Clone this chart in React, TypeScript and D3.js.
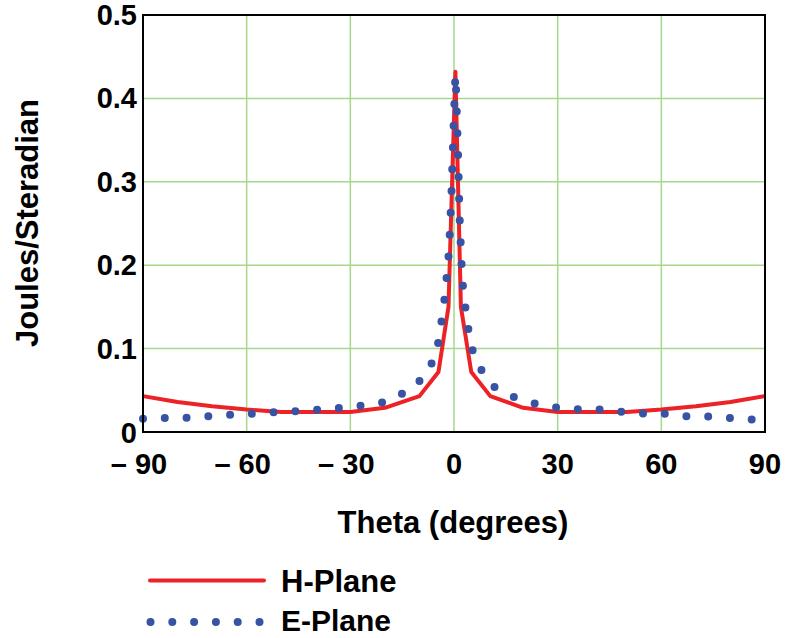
import React, { useRef, useEffect } from "react";
import * as d3 from "d3";

// H-Plane (solid red line): [theta deg, joules/sr]
const hTheta = [-90, -80, -70, -60, -50, -40, -30, -20, -10, -4.5, -1.6, 0.4, 2.0, 5, 10.5, 20, 30, 40, 50, 60, 70, 80, 90];
const hValue = [0.043, 0.036, 0.031, 0.027, 0.024, 0.024, 0.024, 0.029, 0.043, 0.072, 0.15, 0.432, 0.15, 0.072, 0.043, 0.029, 0.024, 0.024, 0.024, 0.027, 0.031, 0.036, 0.043];

// E-Plane (dotted blue line)
const eTheta = [-90, -83, -77, -70.5, -64, -58, -51.5, -45, -39, -32.5, -26, -20, -13.5, -8, -5, -4, -3, -2.4, -1.7, -1.2, -0.7, -0.1, 0.4, 0.6, 1.2, 1.6, 2.2, 2.8, 3.9, 4.5, 6.9, 10.8, 17.2, 23.5, 30, 36.3, 42.7, 49, 55.3, 61.7, 68, 74.4, 80.7, 87, 90];
const eValue = [0.016, 0.017, 0.017, 0.019, 0.021, 0.022, 0.024, 0.025, 0.027, 0.029, 0.032, 0.036, 0.049, 0.068, 0.096, 0.123, 0.149, 0.175, 0.202, 0.24, 0.29, 0.37, 0.428, 0.41, 0.33, 0.26, 0.2, 0.161, 0.135, 0.108, 0.081, 0.056, 0.042, 0.034, 0.029, 0.027, 0.027, 0.024, 0.022, 0.022, 0.0185, 0.0185, 0.0165, 0.0148, 0.014];

const xTicks = [-90, -60, -30, 0, 30, 60, 90];
const yTicks = [0, 0.1, 0.2, 0.3, 0.4, 0.5];

const RED = "#ec2227";
const BLUE = "#3853a4";
const GRID = "#a6d88c";
const FONT = "'Liberation Sans', Arial, sans-serif";

const App = () => {
  const svgRef = useRef<SVGSVGElement>(null);

  useEffect(() => {
    const svg = d3.select(svgRef.current);
    svg.selectAll("*").remove();

    const left = 143, right = 765, top = 15, bottom = 432;
    const x = d3.scaleLinear().domain([-90, 90]).range([left, right]);
    const y = d3.scaleLinear().domain([0, 0.5]).range([bottom, top]);

    // grid
    const g = svg.append("g");
    g.selectAll(".vg")
      .data(xTicks.slice(1, -1))
      .enter()
      .append("line")
      .attr("x1", (d) => x(d)).attr("x2", (d) => x(d))
      .attr("y1", top).attr("y2", bottom)
      .attr("stroke", GRID).attr("stroke-width", 1.5);
    g.selectAll(".hg")
      .data(yTicks.slice(1, -1))
      .enter()
      .append("line")
      .attr("x1", left).attr("x2", right)
      .attr("y1", (d) => y(d)).attr("y2", (d) => y(d))
      .attr("stroke", GRID).attr("stroke-width", 1.5);

    const line = d3.line<[number, number]>().x((d) => x(d[0])).y((d) => y(d[1]));
    const hData = hTheta.map((t, i) => [t, hValue[i]] as [number, number]);
    const eData = eTheta.map((t, i) => [t, eValue[i]] as [number, number]);

    svg.append("path")
      .attr("d", line(hData))
      .attr("fill", "none")
      .attr("stroke", RED)
      .attr("stroke-width", 4)
      .attr("stroke-linejoin", "round");

    svg.append("path")
      .attr("d", line(eData))
      .attr("fill", "none")
      .attr("stroke", BLUE)
      .attr("stroke-width", 8)
      .attr("stroke-linecap", "round")
      .attr("stroke-dasharray", "0 21.8");

    // frame
    svg.append("rect")
      .attr("x", left).attr("y", top)
      .attr("width", right - left).attr("height", bottom - top)
      .attr("fill", "none").attr("stroke", "#000").attr("stroke-width", 2);

    // tick labels
    svg.selectAll(".xt")
      .data(xTicks)
      .enter()
      .append("text")
      .attr("x", (d) => x(d) + (d < 0 ? -4 : 0))
      .attr("y", 474)
      .attr("text-anchor", "middle")
      .style("font", `bold 29px ${FONT}`)
      .text((d) => (d < 0 ? `\u2013 ${-d}` : `${d}`));

    svg.selectAll(".yt")
      .data(yTicks)
      .enter()
      .append("text")
      .attr("x", 137)
      .attr("y", (d) => (d === 0 ? y(d) + 11 : y(d) + 10))
      .attr("text-anchor", "end")
      .style("font", `bold 29px ${FONT}`)
      .text((d) => (d === 0 ? "0" : d.toFixed(1)));

    // axis titles
    svg.append("text")
      .attr("x", 453).attr("y", 533)
      .attr("text-anchor", "middle")
      .style("font", `bold 31px ${FONT}`)
      .text("Theta (degrees)");

    svg.append("text")
      .attr("transform", "translate(38,223) rotate(-90)")
      .attr("text-anchor", "middle")
      .style("font", `bold 31px ${FONT}`)
      .text("Joules/Steradian");

    // legend
    svg.append("line")
      .attr("x1", 150).attr("x2", 264).attr("y1", 580.5).attr("y2", 580.5)
      .attr("stroke", RED).attr("stroke-width", 4).attr("stroke-linecap", "round");
    svg.append("line")
      .attr("x1", 150.5).attr("x2", 262).attr("y1", 622).attr("y2", 622)
      .attr("stroke", BLUE).attr("stroke-width", 8)
      .attr("stroke-linecap", "round").attr("stroke-dasharray", "0 21.8");
    svg.append("text")
      .attr("x", 281).attr("y", 592)
      .style("font", `bold 31px ${FONT}`)
      .text("H-Plane");
    svg.append("text")
      .attr("x", 281).attr("y", 631)
      .style("font", `bold 30px ${FONT}`)
      .text("E-Plane");
  }, []);

  return (
    <svg
      ref={svgRef}
      width={789}
      height={638}
      style={{ position: "absolute", left: 0, top: 0, background: "#fff" }}
    />
  );
};

export default App;
